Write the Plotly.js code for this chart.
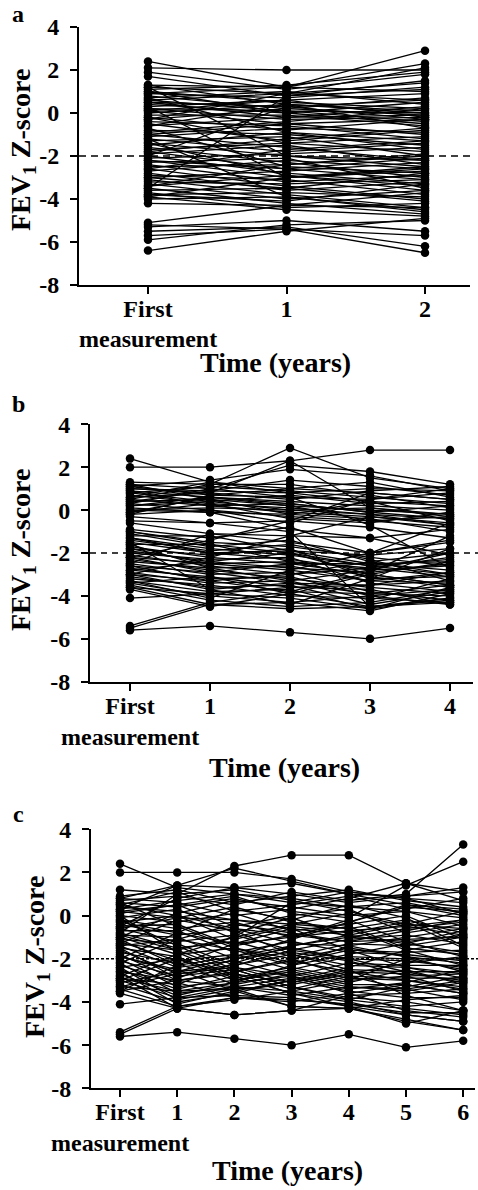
<!DOCTYPE html>
<html>
<head>
<meta charset="utf-8">
<script src="https://cdn.plot.ly/plotly-3.0.1.min.js"></script>
<style>
html,body{margin:0;padding:0;background:#fff;}
#chart{width:478px;height:1190px;}
</style>
</head>
<body>
<div id="chart"></div>
<script>
// ---------------- DATA ----------------
const yTickVals = [4, 2, 0, -2, -4, -6, -8];
const yTickText = ["4", "2", "0", "-2", "-4", "-6", "-8"];
const refLine = -2;

const aCategories = ["First", "1", "2"];
const bCategories = ["First", "1", "2", "3", "4"];
const cCategories = ["First", "1", "2", "3", "4", "5", "6"];

// Panel a: each row = one subject, FEV1 Z-score at First, year 1, year 2
const aSubjects = [
  [2.4, 1.2, 1.0], [2.1, 2.0, 2.0], [1.9, 1.1, 1.8], [1.7, 0.8, 1.5],
  [1.3, 1.2, 2.3], [1.2, 0.9, 0.6], [1.1, 1.3, 1.9], [1.0, 0.5, 0.2],
  [0.9, 0.7, 1.2], [0.8, 0.2, -0.1], [0.7, 1.0, 0.4], [0.6, 0.1, 0.0],
  [0.5, 0.3, -0.3], [0.5, -0.2, 0.3], [0.4, 0.0, -0.5], [0.3, 0.6, 0.9],
  [0.2, -0.3, -0.2], [0.2, 0.1, -0.4], [0.1, -0.5, -1.0], [0.0, 0.4, 0.1],
  [-0.1, -0.1, -0.6], [-0.2, -0.8, -0.3], [-0.3, 0.2, 0.7], [-0.4, -0.6, -1.2],
  [-0.5, -1.3, -0.8], [-0.6, -0.2, -0.1], [-0.7, -2.5, -2.8], [-0.8, -1.0, -1.5],
  [-0.9, -0.4, 0.2], [-1.0, -1.6, -2.2], [-1.1, -0.7, -0.9], [-1.2, -1.8, -1.4],
  [-1.3, -1.1, -2.0], [-1.4, -2.0, -2.5], [-1.5, -0.9, -1.7], [-1.6, -2.3, -3.0],
  [-1.7, -1.4, -1.1], [-1.8, -2.6, -2.1], [-1.9, -1.5, -2.4], [-2.0, -2.8, -3.3],
  [-2.1, -1.9, -1.6], [-2.2, -3.0, -2.7], [-2.3, -2.1, -3.5], [-2.4, -3.2, -2.9],
  [-2.5, -2.4, -1.9], [-2.6, -3.4, -4.0], [-2.7, -2.2, -2.6], [-2.8, -3.6, -3.2],
  [-2.9, -3.1, -3.8], [-3.0, -2.7, -2.3], [-3.1, -3.8, -4.4], [-3.2, -3.3, -3.1],
  [-3.3, -4.0, -3.6], [-3.4, -2.9, -3.4], [-3.5, -4.2, -4.7], [-3.6, -3.5, -2.8],
  [-3.7, -4.4, -4.2], [-3.8, -3.7, -3.9], [-3.9, -4.5, -4.8], [-4.0, -3.9, -4.5],
  [-4.2, -4.3, -3.7], [0.3, -3.0, -2.6], [-3.5, 0.8, 1.1], [1.2, -2.0, -2.2],
  [0.9, 1.2, 2.9], [-0.3, 0.9, 2.1], [-5.1, -4.3, -4.4], [-5.2, -5.4, -5.7],
  [-5.3, -5.0, -5.5], [-5.5, -5.3, -6.2], [-5.7, -5.4, -6.5], [-5.9, -5.2, -5.0],
  [-6.4, -5.5, -4.9], [1.0, 0.0, 0.5], [0.6, 0.9, 1.4], [0.1, 0.6, -0.2],
  [-0.2, -1.4, -1.8], [-0.6, 0.4, 0.0], [-1.0, -0.5, -0.3], [-1.4, -2.9, -3.6],
  [-1.8, -1.2, -0.7], [-2.2, -2.6, -3.1], [-2.6, -1.7, -1.3], [-3.0, -3.5, -4.1],
  [-3.4, -2.4, -2.0], [-3.8, -4.1, -3.3], [0.7, -0.9, -1.3], [-2.0, 0.3, 0.6],
  [1.3, 0.4, -0.7], [-1.2, -3.9, -4.6], [-3.9, -3.0, -2.5]
];

// Panel b: First, years 1-4
const bSubjects = [
  [2.4, 1.3, 1.0, 0.8, 0.5], [2.0, 2.0, 2.3, 2.8, 2.8], [1.3, 1.2, 2.9, 1.5, 1.0],
  [1.2, 1.0, 2.1, 1.8, 1.2], [1.1, 1.4, 1.9, 1.6, 0.9], [1.0, 0.9, 1.4, 1.1, 0.7],
  [0.9, 0.6, 0.4, 0.2, 0.0], [0.8, 1.1, 0.9, 0.6, 0.3], [0.7, 0.3, 0.1, -0.2, -0.4],
  [0.6, 0.8, 0.5, 0.9, 1.1], [0.5, 0.2, -0.1, -0.3, -0.6], [0.4, 0.5, 0.2, 0.0, -0.2],
  [0.3, 0.0, -0.3, -0.5, -0.8], [0.2, 0.4, 0.7, 0.3, 0.4], [0.1, -0.1, -0.2, -0.4, -1.0],
  [0.0, 0.1, 0.0, 0.1, -0.3], [-0.1, 0.3, -0.4, -0.6, -0.1], [-0.2, 0.7, 1.0, 1.3, 0.6],
  [-0.3, -0.6, -0.5, -0.8, -1.3], [0.9, 0.2, 0.3, -0.1, 0.2], [1.2, 0.5, -0.2, 0.4, -0.5],
  [0.5, 1.2, 1.2, 0.7, 0.1], [-0.6, -1.1, -1.2, -1.3, -2.1], [-0.9, -1.3, -0.8, -2.0, -1.5],
  [-1.0, -1.5, -1.7, -2.2, -2.6], [-1.1, -1.7, -1.4, -2.4, -3.0], [-1.2, -1.2, -1.9, -2.1, -1.8],
  [-1.3, -1.8, -2.1, -2.6, -2.3], [-1.4, -1.9, -1.6, -2.3, -3.3], [-1.5, -2.0, -2.3, -2.8, -2.0],
  [-1.6, -1.6, -2.0, -3.0, -3.5], [-1.7, -2.2, -2.5, -2.5, -2.8], [-1.8, -2.1, -1.8, -3.2, -3.1],
  [-1.9, -2.4, -2.7, -2.9, -2.5], [-2.0, -2.3, -2.2, -3.4, -3.8], [-2.1, -2.6, -3.0, -2.7, -2.2],
  [-2.2, -2.5, -2.4, -3.1, -3.6], [-2.3, -2.8, -3.2, -3.6, -3.9], [-2.4, -2.7, -2.6, -3.3, -3.4],
  [-2.5, -3.0, -2.9, -3.8, -4.2], [-2.6, -2.9, -3.4, -3.5, -2.9], [-2.7, -3.2, -3.1, -4.0, -3.7],
  [-2.8, -3.1, -3.6, -3.7, -4.4], [-2.9, -3.4, -3.3, -4.2, -3.2], [-3.0, -3.3, -3.8, -3.9, -4.0],
  [-3.1, -3.6, -3.5, -4.4, -3.8], [-3.2, -3.5, -4.0, -4.1, -4.3], [-3.3, -3.8, -3.7, -4.6, -4.1],
  [-3.4, -4.0, -4.3, -4.7, -3.9], [-3.5, -4.2, -4.5, -4.3, -3.7], [-3.6, -4.4, -4.6, -4.5, -4.2],
  [-3.7, -4.5, -3.9, -3.0, -2.4], [-4.1, -3.9, -3.6, -3.5, -3.3], [-5.4, -4.3, -3.8, -2.9, -1.2],
  [-5.5, -4.4, -4.3, -4.0, -4.4], [-5.6, -5.4, -5.7, -6.0, -5.5], [-0.5, -0.6, -1.0, -4.5, -4.1],
  [0.0, -0.1, -0.9, -1.3, -0.9], [-3.0, -2.2, -1.2, -0.3, -0.7], [1.0, 0.8, 2.3, 0.1, -0.2],
  [-1.5, -3.7, -4.4, -3.2, -1.8], [-2.2, -1.4, -0.5, 0.8, 0.5], [0.3, 1.0, 0.6, -0.7, -2.7],
  [-3.3, -4.1, -2.8, -2.0, -0.6], [0.6, 1.3, 0.8, 1.0, 0.9], [-0.2, 0.0, -0.6, 0.5, 1.0],
  [-2.5, -1.1, -1.5, -2.0, -1.4], [-3.6, -3.9, -4.1, -4.6, -3.6], [0.8, 0.4, 0.0, -0.2, -0.7],
  [0.4, 0.9, 0.8, 0.4, 0.2], [-0.1, 0.6, 0.3, -0.1, -0.4], [-1.0, -1.6, -2.4, -2.7, -3.1],
  [-1.3, -2.0, -1.9, -2.5, -2.4], [-1.8, -2.5, -2.8, -3.3, -2.9], [-2.2, -2.9, -2.5, -3.0, -3.5],
  [-2.6, -3.3, -3.0, -2.4, -2.0], [-3.0, -3.7, -3.4, -3.9, -3.5], [-3.4, -3.1, -3.9, -4.5, -4.3],
  [-1.6, -2.7, -3.3, -2.8, -2.6], [0.2, 0.6, 0.2, -0.5, -0.3], [1.1, 0.7, 0.6, 0.5, 0.8],
  [-2.8, -2.4, -2.0, -2.6, -3.0]
];

// Panel c: First, years 1-6
const cSubjects = [
  [2.4, 1.3, 1.0, 0.6, 0.4, 0.2, -0.1], [2.0, 2.0, 2.0, 1.7, 1.1, 0.8, 0.6],
  [1.2, 1.0, 2.3, 2.8, 2.8, 1.5, 1.1], [0.8, 1.4, 1.3, 1.5, 1.0, 0.9, 1.3],
  [0.7, 0.9, 0.5, 1.1, 0.7, 1.0, 3.3], [0.6, 0.4, 0.8, 0.2, -0.1, 1.4, 2.5],
  [0.5, 1.1, 0.2, 0.5, 0.9, 0.3, 0.8], [0.4, 0.2, -0.2, -0.4, 0.1, -0.5, -0.2],
  [0.3, 0.7, 1.0, 0.8, 0.4, 0.6, 0.1], [0.2, -0.1, 0.4, -0.3, -0.6, -0.2, -0.8],
  [0.1, 0.5, -0.5, 0.0, 0.3, -0.8, -0.4], [0.0, -0.3, 0.1, -0.7, -0.4, 0.0, -1.1],
  [-0.1, 0.3, -0.8, -0.1, -1.0, -0.6, -0.3], [-0.2, -0.6, -0.3, -1.0, -0.2, -1.2, -0.9],
  [-0.3, 0.0, -1.1, -0.5, -0.8, -0.3, -1.5], [-0.4, -0.9, -0.6, -1.3, -1.4, -1.0, -0.6],
  [-0.5, -0.4, -1.4, -0.9, -0.5, -1.5, -1.8], [-0.6, -1.2, -0.9, -1.6, -1.1, -0.9, -1.3],
  [-0.7, -0.7, -1.7, -1.2, -1.7, -1.8, -2.1], [-0.8, -1.5, -1.2, -1.9, -1.3, -1.4, -1.0],
  [-0.9, -1.0, -2.0, -1.5, -2.0, -2.1, -2.4], [-1.0, -1.8, -1.5, -2.2, -1.6, -1.7, -1.6],
  [-1.1, -1.3, -2.3, -1.8, -2.3, -2.4, -2.7], [-1.2, -2.1, -1.8, -2.5, -1.9, -2.0, -2.0],
  [-1.3, -1.6, -2.6, -2.1, -2.6, -2.7, -3.0], [-1.4, -2.4, -2.1, -2.8, -2.2, -2.3, -2.3],
  [-1.5, -1.9, -2.9, -2.4, -2.9, -3.0, -3.3], [-1.6, -2.7, -2.4, -3.1, -2.5, -2.6, -2.6],
  [-1.7, -2.2, -3.2, -2.7, -3.2, -3.2, -3.6], [-1.8, -3.0, -2.7, -3.4, -2.8, -2.9, -2.9],
  [-1.9, -2.5, -3.5, -3.0, -3.5, -3.8, -3.8], [-2.0, -3.3, -3.0, -2.6, -3.1, -2.5, -3.2],
  [-2.1, -2.8, -2.5, -3.3, -3.8, -4.0, -4.4], [-2.2, -3.6, -3.3, -2.9, -3.4, -3.1, -2.5],
  [-2.3, -3.1, -3.8, -3.9, -4.1, -4.3, -4.6], [-2.4, -3.9, -3.4, -3.2, -2.7, -2.2, -1.9],
  [-2.5, -3.4, -2.8, -3.6, -4.0, -4.6, -4.9], [-2.6, -4.1, -3.5, -4.2, -4.3, -4.8, -5.3],
  [-2.7, -3.7, -3.1, -2.3, -1.8, -1.3, -0.7], [-2.8, -4.3, -4.6, -4.4, -3.7, -3.6, -3.4],
  [-2.9, -3.2, -2.2, -1.4, -0.9, -0.4, 0.2], [-3.0, -3.8, -3.7, -3.8, -4.2, -5.0, -4.4],
  [-3.1, -2.6, -1.9, -1.1, -0.3, 0.5, 0.3], [-3.2, -4.0, -3.6, -3.0, -2.4, -1.6, -1.2],
  [-3.3, -3.5, -3.4, -4.2, -4.3, -3.9, -3.7], [-3.4, -4.2, -3.9, -3.5, -3.9, -3.3, -2.8],
  [-3.5, -3.0, -2.6, -2.0, -1.5, -1.9, -2.2], [-3.6, -4.3, -3.8, -4.0, -3.6, -4.4, -4.7],
  [-4.1, -3.8, -3.3, -3.7, -3.3, -3.5, -3.1], [-5.4, -4.2, -3.8, -3.9, -4.1, -4.5, -4.5],
  [-5.5, -4.3, -4.6, -4.4, -4.3, -4.9, -5.3], [-5.6, -5.4, -5.7, -6.0, -5.5, -6.1, -5.8],
  [0.9, 1.2, 0.6, 0.9, 1.2, 0.7, 0.4], [0.3, 1.4, 2.2, 1.6, 1.0, 0.5, 0.0],
  [-0.5, 0.8, 1.3, 1.0, 0.6, 0.9, 1.1], [0.8, 0.6, 0.0, 0.3, 0.8, 1.5, 0.7],
  [-1.0, 0.1, 0.7, 0.4, 0.0, 0.2, -0.5], [-2.0, -0.8, 0.3, -0.2, 0.5, -0.1, -1.4],
  [-1.5, -2.9, -2.0, -1.7, -2.1, -2.8, -3.5], [0.6, -0.5, -1.5, -2.0, -2.8, -3.4, -3.9],
  [-0.2, -1.4, -2.5, -3.3, -3.9, -4.2, -4.0], [-2.2, -1.1, -0.4, -0.8, -1.2, -0.7, -0.2],
  [-3.5, -2.3, -1.3, -0.6, -1.6, -2.4, -2.9], [-1.3, -0.2, -0.7, -1.8, -2.5, -3.7, -4.4],
  [0.0, -1.7, -2.8, -3.6, -4.2, -4.6, -4.9], [-2.8, -1.8, -1.0, 0.6, 1.1, 0.8, 0.1],
  [-0.8, 1.0, 1.2, 0.7, 0.2, -0.4, -0.6], [-3.0, -2.0, -3.0, -2.5, -3.0, -2.0, -2.5],
  [0.5, 0.0, -0.6, -0.9, -1.2, -1.1, -1.0], [-0.6, -0.1, -0.2, -0.6, -0.9, -1.3, -1.7],
  [-1.4, -1.1, -1.6, -2.3, -1.4, -1.9, -2.6], [-1.9, -2.6, -2.3, -1.6, -2.0, -2.6, -3.1],
  [-2.4, -2.0, -2.7, -3.1, -2.6, -3.0, -3.4], [-2.9, -3.5, -3.1, -2.8, -3.3, -3.4, -3.0],
  [-0.3, -0.8, -1.3, -1.0, -0.7, -0.5, -0.9], [0.2, 0.5, 0.9, 0.1, -0.3, 0.4, 0.2],
  [-1.1, -2.3, -1.9, -1.4, -1.0, -1.2, -1.9], [-3.3, -2.7, -2.4, -2.8, -3.6, -3.2, -3.6],
  [-0.9, -1.6, -1.0, -0.4, -0.6, -1.6, -2.3], [-2.6, -3.0, -3.3, -3.5, -3.0, -2.8, -2.7]
];

const panelLabels = ["a", "b", "c"];
const yTitle = "FEV<sub>1</sub> Z-score";
const xTitle = "Time (years)";
const firstSubLabel = "measurement";

// ---------------- LAYOUT ----------------
const W = 478, H = 1190;
const fx = p => p / W;
const fy = p => 1 - p / H;
const FONT = "Liberation Serif, Times New Roman, serif";

// pixel geometry of each panel
const panels = [
  {subjects: aSubjects, cats: aCategories, axL: 79, axR: 470, top: 27, bot: 285, first: 148, step: 138.5,
   label: [18, 14], mes: 339, xt: [275, 362], yt: [22, 150], dash: "7px,5px", dashEnd: 470},
  {subjects: bSubjects, cats: bCategories, axL: 90, axR: 473, top: 424.3, bot: 681.7, first: 130, step: 80,
   label: [18, 404], mes: 737, xt: [284, 767], yt: [22, 550], dash: "6px,5px", dashEnd: 478},
  {subjects: cSubjects, cats: cCategories, axL: 91, axR: 475, top: 829.3, bot: 1088.3, first: 120, step: 57.2,
   label: [18, 814], mes: 1143, xt: [287, 1170], yt: [36, 957], dash: "3px,2px", dashEnd: 478}
];

const data = [];
const layout = {
  width: W, height: H,
  margin: {l: 0, r: 0, t: 0, b: 0},
  paper_bgcolor: "white", plot_bgcolor: "white",
  showlegend: false, hovermode: false,
  font: {family: FONT, color: "black"},
  shapes: [], annotations: []
};

panels.forEach((p, i) => {
  const n = i === 0 ? "" : String(i + 1);
  const xs = [], ys = [];
  p.subjects.forEach(row => {
    row.forEach((v, t) => { xs.push(t); ys.push(v); });
    xs.push(null); ys.push(null);
  });
  data.push({
    type: "scatter", mode: "lines+markers",
    x: xs, y: ys, xaxis: "x" + n, yaxis: "y" + n,
    connectgaps: false,
    line: {color: "#000", width: 1.3},
    marker: {color: "black", size: 8.5},
    cliponaxis: false
  });

  const xr0 = (p.axL - p.first) / p.step;
  const xr1 = (p.axR - p.first) / p.step;
  layout["xaxis" + n] = {
    domain: [fx(p.axL), fx(p.axR)], range: [xr0, xr1], anchor: "y" + n,
    tickmode: "array", tickvals: p.cats.map((c, k) => k), ticktext: p.cats,
    showline: true, linecolor: "black", linewidth: 2,
    ticks: "outside", ticklen: 7, tickwidth: 2, tickcolor: "black",
    showgrid: false, zeroline: false,
    tickfont: {family: FONT, size: 24, color: "black", weight: "bold"},
    ticklabelstandoff: -6
  };
  layout["yaxis" + n] = {
    domain: [fy(p.bot), fy(p.top)], range: [-8, 4], anchor: "x" + n,
    tickmode: "array", tickvals: yTickVals, ticktext: yTickText,
    showline: true, linecolor: "black", linewidth: 2,
    ticks: "outside", ticklen: 7, tickwidth: 2, tickcolor: "black",
    showgrid: false, zeroline: false,
    tickfont: {family: FONT, size: 24, color: "black", weight: "bold"},
    ticklabelstandoff: 6
  };
  layout.shapes.push({
    type: "line", layer: "below", xref: "paper", yref: "y" + n,
    x0: fx(p.axL), x1: fx(p.dashEnd), y0: refLine, y1: refLine,
    line: {color: "black", width: 1.5, dash: p.dash}
  });
  layout.annotations.push(
    {text: "<b>" + panelLabels[i] + "</b>", xref: "paper", yref: "paper", x: fx(p.label[0]), y: fy(p.label[1]),
     xanchor: "center", yanchor: "middle", showarrow: false, font: {family: FONT, size: 24, color: "black"}},
    {text: "<b>" + firstSubLabel + "</b>", xref: "x" + n, yref: "paper", x: 0, y: fy(p.mes),
     xanchor: "center", yanchor: "middle", showarrow: false, font: {family: FONT, size: 24, color: "black"}},
    {text: "<b>" + xTitle + "</b>", xref: "paper", yref: "paper", x: fx(p.xt[0]), y: fy(p.xt[1]),
     xanchor: "center", yanchor: "middle", showarrow: false, font: {family: FONT, size: 28, color: "black"}},
    {text: "<b>" + yTitle + "</b>", xref: "paper", yref: "paper", x: fx(p.yt[0]), y: fy(p.yt[1]),
     xanchor: "center", yanchor: "middle", textangle: -90, showarrow: false, font: {family: FONT, size: 28, color: "black"}}
  );
});

Plotly.newPlot("chart", data, layout, {staticPlot: true, displayModeBar: false});
</script>
</body>
</html>
